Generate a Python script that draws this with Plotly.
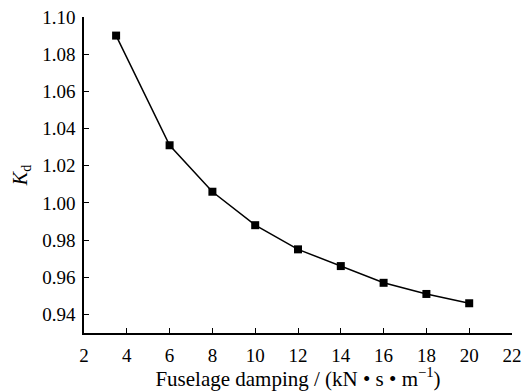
import plotly.graph_objects as go

# Fuselage damping (kN·s/m) and the resulting coefficient K_d
damping = [3.5, 6, 8, 10, 12, 14, 16, 18, 20]
kd = [1.090, 1.031, 1.006, 0.988, 0.975, 0.966, 0.957, 0.951, 0.946]

x_ticks = [2, 4, 6, 8, 10, 12, 14, 16, 18, 20, 22]
y_ticks = [0.94, 0.96, 0.98, 1.00, 1.02, 1.04, 1.06, 1.08, 1.10]

font = dict(family="Liberation Serif, Times New Roman, serif", color="black")

fig = go.Figure(
    go.Scatter(
        x=damping,
        y=kd,
        mode="lines+markers",
        line=dict(color="black", width=1.5),
        marker=dict(symbol="square", size=8, color="black"),
        showlegend=False,
    )
)

fig.update_layout(
    width=523,
    height=391,
    margin=dict(l=84, r=11, t=17, b=58),
    paper_bgcolor="white",
    plot_bgcolor="white",
    font=dict(**font, size=19),
)

axis_style = dict(
    ticks="inside",
    ticklen=5,
    tickwidth=1.2,
    tickcolor="black",
    showline=True,
    linecolor="black",
    linewidth=1.5,
    showgrid=False,
    zeroline=False,
    automargin=False,
    tickfont=dict(**font, size=19),
)

fig.update_xaxes(
    range=[2, 22],
    tickvals=x_ticks,
    ticktext=[str(v) for v in x_ticks],
    ticklabelstandoff=4,
    title=dict(
        text="Fuselage damping / (kN • s • m<sup>−1</sup>)",
        font=dict(**font, size=21),
        standoff=1,
    ),
    **axis_style,
)

fig.update_yaxes(
    range=[0.93, 1.10],
    tickvals=y_ticks,
    ticktext=[f"{v:.2f}" for v in y_ticks],
    ticklabelstandoff=3,
    title=dict(
        text="<i>K</i><sub>d</sub>",
        font=dict(**font, size=20),
        standoff=9,
    ),
    **axis_style,
)

fig.write_html("out.html")
